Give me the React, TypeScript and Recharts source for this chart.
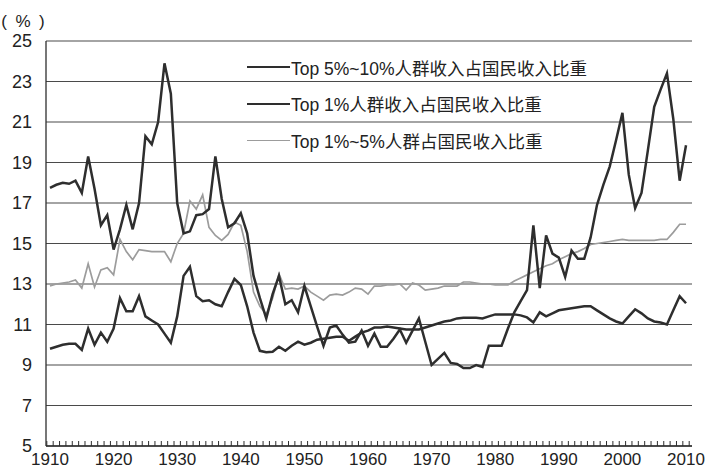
import { LineChart, Line, XAxis, YAxis, CartesianGrid, Legend } from "recharts";

const years = [
  1910, 1911, 1912, 1913, 1914, 1915, 1916, 1917, 1918, 1919,
  1920, 1921, 1922, 1923, 1924, 1925, 1926, 1927, 1928, 1929,
  1930, 1931, 1932, 1933, 1934, 1935, 1936, 1937, 1938, 1939,
  1940, 1941, 1942, 1943, 1944, 1945, 1946, 1947, 1948, 1949,
  1950, 1951, 1952, 1953, 1954, 1955, 1956, 1957, 1958, 1959,
  1960, 1961, 1962, 1963, 1964, 1965, 1966, 1967, 1968, 1969,
  1970, 1971, 1972, 1973, 1974, 1975, 1976, 1977, 1978, 1979,
  1980, 1981, 1982, 1983, 1984, 1985, 1986, 1987, 1988, 1989,
  1990, 1991, 1992, 1993, 1994, 1995, 1996, 1997, 1998, 1999,
  2000, 2001, 2002, 2003, 2004, 2005, 2006, 2007, 2008, 2009,
  2010,
];

// Top 1%
const top1 = [
  17.75, 17.9, 18.0, 17.95, 18.1, 17.5, 19.3, 17.7, 15.9, 16.4,
  14.7, 15.7, 16.9, 15.7, 17.0, 20.3, 19.9, 21.0, 23.9, 22.4,
  17.0, 15.5, 15.6, 16.4, 16.45, 16.7, 19.3, 17.2, 15.8, 16.0,
  16.5, 15.5, 13.4, 12.3, 11.3, 12.5, 13.4, 12.0, 12.2, 11.6,
  12.9, 11.9, 10.9, 9.95, 10.85, 10.95, 10.5, 10.1, 10.15, 10.7,
  9.95, 10.55, 9.9, 9.9, 10.3, 10.75, 10.1, 10.7, 11.3, 10.15,
  9.0, 9.3, 9.6, 9.1, 9.05, 8.85, 8.85, 9.0, 8.9, 9.95,
  9.95, 9.95, 10.8, 11.6, 12.15, 12.7, 15.9, 12.8, 15.4, 14.5,
  14.3, 13.35, 14.65, 14.25, 14.25, 15.3, 16.9, 17.9, 18.8, 20.1,
  21.45, 18.4, 16.75, 17.5, 19.6, 21.75, 22.6, 23.4, 21.15, 18.1,
  19.85,
];

// Top 5%~10%
const top5to10 = [
  9.8, 9.9, 10.0, 10.05, 10.05, 9.75, 10.8, 10.0, 10.6, 10.15,
  10.8, 12.3, 11.65, 11.65, 12.4, 11.4, 11.2, 11.0, 10.55, 10.1,
  11.4, 13.4, 13.85, 12.4, 12.15, 12.2, 12.0, 11.9, 12.6, 13.25,
  12.95, 11.9, 10.6, 9.7, 9.63, 9.65, 9.9, 9.7, 9.95, 10.15,
  10.0, 10.1, 10.25, 10.3, 10.35, 10.4, 10.4, 10.2, 10.4, 10.6,
  10.7, 10.85, 10.85, 10.9, 10.85, 10.8, 10.75, 10.75, 10.75, 10.85,
  10.95, 11.05, 11.15, 11.2, 11.3, 11.33, 11.33, 11.33, 11.3, 11.4,
  11.5, 11.5, 11.5, 11.5, 11.45, 11.35, 11.1, 11.6, 11.4, 11.55,
  11.7, 11.75, 11.8, 11.85, 11.9, 11.9, 11.7, 11.5, 11.3, 11.15,
  11.05, 11.4, 11.75, 11.55, 11.3, 11.15, 11.1, 11.0, 11.7, 12.4,
  12.05,
];

// Top 1%~5%
const top1to5 = [
  12.9, 13.0, 13.05, 13.1, 13.2, 12.8, 14.0, 12.85, 13.7, 13.8,
  13.45, 15.2, 14.6, 14.2, 14.7, 14.65, 14.6, 14.6, 14.6, 14.1,
  15.0, 15.5, 17.1, 16.7, 17.4, 15.8, 15.4, 15.15, 15.45, 16.05,
  15.9, 14.6, 12.6, 11.9, 11.5, 12.3, 13.5, 12.75, 12.8, 12.75,
  12.9, 12.6, 12.4, 12.2, 12.45, 12.5, 12.45, 12.6, 12.8, 12.75,
  12.5, 12.9, 12.9, 12.95, 12.95, 13.0, 12.7, 13.05, 12.95, 12.7,
  12.75, 12.8, 12.9, 12.9, 12.9, 13.1, 13.1, 13.05, 13.0, 13.0,
  12.95, 12.95, 12.95, 13.15, 13.3, 13.45, 13.6, 13.75, 13.9, 14.0,
  14.2, 14.35, 14.5, 14.6, 14.75, 14.95, 15.0, 15.05, 15.1, 15.15,
  15.2, 15.15, 15.15, 15.15, 15.15, 15.15, 15.2, 15.2, 15.55, 15.95,
  15.95,
];

const yTicks = [5, 7, 9, 11, 13, 15, 17, 19, 21, 23, 25];

const legendOrder = ["top5to10", "top1", "top1to5"];

const data = years.map((year, i) => ({
  year,
  top1: top1[i],
  top5to10: top5to10[i],
  top1to5: top1to5[i],
}));

const FONT = "'Liberation Sans', Arial, 'Noto Sans CJK SC', sans-serif";
const DARK = "#2e2e2e";
const GRAY = "#9c9c9c";
const GRID = "#4a4a4a";
// plot bottom (px) and half a year in px, tick marks sit between the years
const AXIS_Y = 446;
const HALF = 3.18;

function YearTick(props: any) {
  const { x, payload } = props;
  const yr = payload.value;
  return (
    <g>
      <line x1={x - HALF} x2={x - HALF} y1={AXIS_Y} y2={AXIS_Y - 5} stroke={DARK} strokeWidth={1} />
      {yr === 2010 && (
        <line x1={x + HALF} x2={x + HALF} y1={AXIS_Y} y2={AXIS_Y - 5} stroke={DARK} strokeWidth={1} />
      )}
      {yr % 10 === 0 && (
        <text x={x} y={AXIS_Y + 19} textAnchor="middle" fontSize={17} fill="#222" fontFamily={FONT}>
          {yr}
        </text>
      )}
    </g>
  );
}

function LegendBox(props: any) {
  const items = [...(props.payload ?? [])].sort(
    (a: any, b: any) => legendOrder.indexOf(a.dataKey) - legendOrder.indexOf(b.dataKey)
  );
  return (
    <div style={{ fontFamily: FONT, fontSize: 17.5, color: "#222" }}>
      {items.map((item: any) => (
        <div key={item.dataKey} style={{ display: "flex", alignItems: "center", height: 36.5 }}>
          <span
            style={{
              display: "inline-block",
              width: 43,
              borderTop: `${item.dataKey === "top1to5" ? 1.6 : 2.5}px solid ${item.color}`,
              marginRight: 1,
            }}
          />
          <span style={{ whiteSpace: "nowrap" }}>{item.value}</span>
        </div>
      ))}
    </div>
  );
}

export default function App() {
  return (
    <div style={{ position: "absolute", top: 0, left: 0, width: 707, height: 470, background: "#fff" }}>
      <LineChart width={707} height={470} data={data} margin={{ top: 41, right: 15, left: 0, bottom: 0 }}>
        <CartesianGrid vertical={false} stroke={GRID} strokeWidth={1.2} />
        <XAxis
          dataKey="year"
          type="number"
          domain={[1909.37, 2010.94]}
          allowDataOverflow
          ticks={years}
          interval={0}
          tickSize={0}
          tickMargin={0}
          height={24}
          axisLine={{ stroke: DARK, strokeWidth: 1.3 }}
          tickLine={false}
          tick={YearTick}
        />
        <YAxis
          type="number"
          domain={[5, 25]}
          ticks={yTicks}
          interval={0}
          width={46}
          tickSize={0}
          tickMargin={14}
          tickLine={false}
          axisLine={{ stroke: DARK, strokeWidth: 1.3 }}
          tick={{ fontSize: 18, fill: "#222", fontFamily: FONT }}
          label={{
            value: "(\u2002%\u2002)",
            position: "top",
            offset: 14,
            fontSize: 17,
            fill: "#222",
            fontFamily: FONT,
          }}
        />
        <Legend
          layout="vertical"
          align="center"
          verticalAlign="middle"
          wrapperStyle={{ top: 49, left: 247, width: 400 }}
          content={LegendBox}
        />
        <Line
          type="linear"
          dataKey="top1to5"
          name="Top 1%~5%人群占国民收入比重"
          stroke={GRAY}
          strokeWidth={1.7}
          dot={false}
          isAnimationActive={false}
        />
        <Line
          type="linear"
          dataKey="top5to10"
          name="Top 5%~10%人群收入占国民收入比重"
          stroke={DARK}
          strokeWidth={2.5}
          dot={false}
          isAnimationActive={false}
        />
        <Line
          type="linear"
          dataKey="top1"
          name="Top 1%人群收入占国民收入比重"
          stroke={DARK}
          strokeWidth={2.5}
          dot={false}
          isAnimationActive={false}
        />
      </LineChart>
    </div>
  );
}
